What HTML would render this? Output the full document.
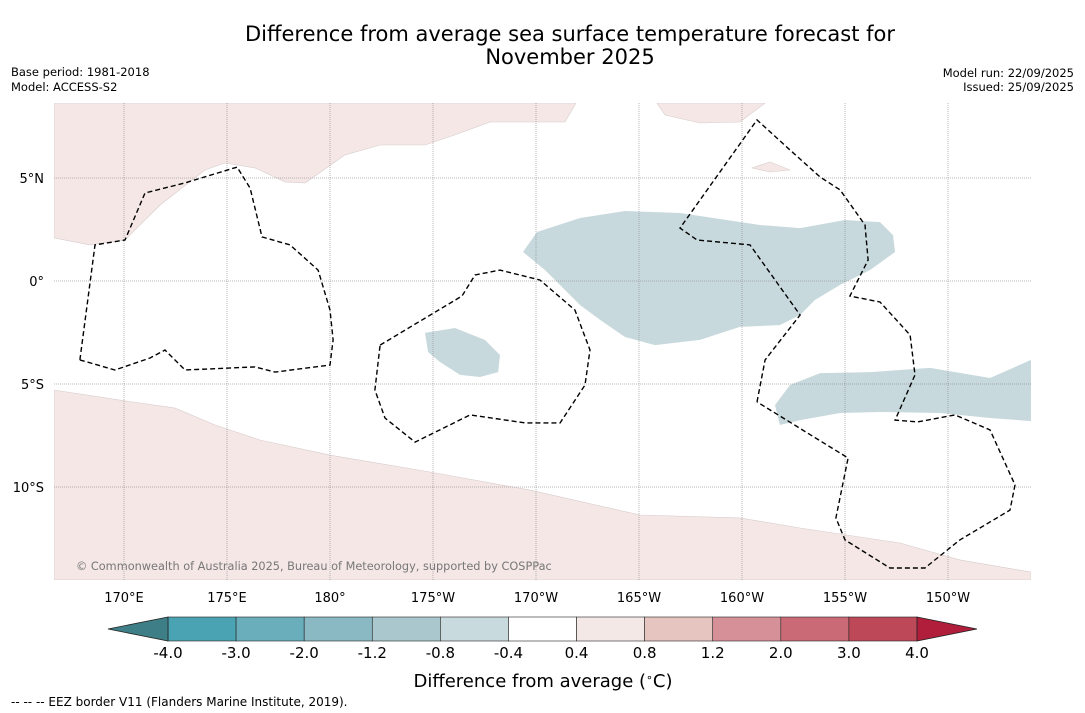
<!DOCTYPE html>
<html><head><meta charset="utf-8">
<style>
body{margin:0;background:#fff;width:1085px;height:713px;overflow:hidden;font-family:"Liberation Sans","DejaVu Sans",sans-serif;}
svg{display:block}
text{font-family:"DejaVu Sans","Liberation Sans",sans-serif;}
</style></head>
<body>
<svg id="chart" width="1085" height="713">
<text x="570" y="41" text-anchor="middle" font-size="21" fill="#000">Difference from average sea surface temperature forecast for</text>
<text x="570" y="64" text-anchor="middle" font-size="21" fill="#000">November 2025</text>
<text x="11" y="76" font-size="11.5">Base period: 1981-2018</text>
<text x="11" y="91" font-size="11.5">Model: ACCESS-S2</text>
<text x="1074" y="77" font-size="11.5" text-anchor="end">Model run: 22/09/2025</text>
<text x="1074" y="91" font-size="11.5" text-anchor="end">Issued: 25/09/2025</text>
<g id="map"></g>
<g id="cbar"></g>
<text x="543" y="687" text-anchor="middle" font-size="18">Difference from average (<tspan font-size="11" dy="-6">∘</tspan><tspan dy="6">C)</tspan></text>
<text x="11" y="706" font-size="12">--  --  -- EEZ border V11 (Flanders Marine Institute, 2019).</text>
</svg>
<script>
const lonTicks=[170,175,180,185,190,195,200,205,210];
const lonLabels=["170°E","175°E","180°","175°W","170°W","165°W","160°W","155°W","150°W"];
const latTicks=[5,0,-5,-10];
const latLabels=["5°N","0°","5°S","10°S"];
const levels=[-4.0,-3.0,-2.0,-1.2,-0.8,-0.4,0.4,0.8,1.2,2.0,3.0,4.0];
const levelLabels=["-4.0","-3.0","-2.0","-1.2","-0.8","-0.4","0.4","0.8","1.2","2.0","3.0","4.0"];
const binColors=["#4aa3b2","#6aaebb","#8ab9c4","#a9c7cc","#c8dadd","#ffffff","#f3e8e6","#e6c5c0","#d69098","#ca6a76","#bd4858"];
const landNorthWest=[[166.6,8.64],[166.6,2.09],[168.35,1.75],[170.05,1.99],[171.75,3.69],[173.93,5.39],[174.9,5.73],[176.36,5.49],[177.82,4.81],[178.79,4.76],[180.73,6.12],[182.43,6.6],[184.61,6.6],[186.07,7.09],[187.77,7.72],[191.41,7.72],[191.94,8.64]];
const landNorthEast=[[195.87,8.64],[196.26,8.06],[197.96,7.67],[199.9,7.72],[201.12,8.64]];
const islandSmall=[[200.49,5.49],[201.36,5.78],[202.33,5.39],[201.36,5.29]];
const landSouth=[[166.6,-5.29],[169.8,-5.78],[172.48,-6.17],[174.42,-6.99],[176.6,-7.72],[180,-8.45],[184.85,-9.27],[189.71,-10.15],[195.05,-11.36],[199.9,-11.5],[202.82,-11.99],[207.67,-12.72],[210.58,-13.54],[214.03,-14.13],[214.03,-14.51],[166.6,-14.51]];
const coolBig=[[190.05,2.38],[192.14,3.06],[194.32,3.4],[196.99,3.3],[200.87,2.72],[202.82,2.57],[205.0,2.96],[206.7,2.86],[207.33,2.23],[207.43,1.41],[206.21,0.53],[204.76,-0.19],[203.54,-0.92],[202.82,-1.65],[201.84,-2.14],[199.9,-2.23],[197.96,-2.86],[195.78,-3.11],[194.32,-2.72],[193.11,-1.89],[192.14,-1.17],[190.44,0.53],[189.37,1.41]];
const coolSmall=[[184.61,-2.52],[186.07,-2.28],[187.52,-2.86],[188.25,-3.59],[188.16,-4.42],[187.28,-4.66],[186.31,-4.56],[185.34,-3.93],[184.76,-3.45]];
const coolEast=[[201.6,-6.02],[202.33,-5.05],[203.79,-4.47],[206.21,-4.42],[209.13,-4.22],[212.04,-4.71],[214.03,-3.83],[214.03,-6.8],[212.04,-6.65],[209.61,-6.41],[206.7,-6.36],[204.76,-6.41],[202.82,-6.75],[201.84,-6.99]];
const eezWest=[[167.86,-3.83],[168.59,1.75],[170.05,1.99],[171.02,4.27],[172.96,4.76],[175.49,5.53],[176.12,4.51],[176.7,2.14],[178.06,1.75],[179.42,0.53],[180,-1.41],[180.15,-2.86],[180,-4.08],[177.33,-4.42],[176.36,-4.17],[172.96,-4.32],[171.99,-3.35],[171.26,-3.74],[169.56,-4.32],[167.86,-3.83]];
const eezMid=[[182.43,-3.11],[186.41,-0.73],[187.04,0.29],[188.25,0.53],[190.19,0.05],[191.89,-1.41],[192.62,-3.35],[192.38,-5.05],[191.17,-6.89],[189.47,-6.89],[186.8,-6.5],[184.13,-7.82],[182.67,-6.65],[182.18,-5.29],[182.43,-3.11]];
const eezEast=[[200.73,-5.87],[201.12,-3.83],[202.82,-1.65],[200.39,1.75],[197.82,1.99],[196.99,2.57],[200.73,7.82],[202.33,6.36],[203.79,5.05],[204.76,4.42],[205.97,2.72],[206.12,1.02],[205.24,-0.73],[206.7,-1.02],[208.16,-2.62],[208.4,-4.56],[207.43,-6.75],[208.54,-6.84],[210.34,-6.5],[212.04,-7.23],[213.25,-9.9],[213.01,-11.12],[210.58,-12.57],[208.88,-13.93],[207.18,-13.93],[205.0,-12.57],[204.56,-11.5],[205.15,-8.59],[200.73,-5.87]];

const NS="http://www.w3.org/2000/svg";
const X0=54,X1=1031,Y0=103,Y1=580;
const xS=lon=>124+(lon-170)*20.6;
const yS=lat=>281-lat*20.6;
function mk(tag,attrs,parent){const e=document.createElementNS(NS,tag);for(const k in attrs)e.setAttribute(k,attrs[k]);parent.appendChild(e);return e;}
const map=document.getElementById('map');
const defs=mk('defs',{},map);
const cp=mk('clipPath',{id:'clip'},defs);
mk('rect',{x:X0,y:Y0,width:X1-X0,height:Y1-Y0},cp);
const g=mk('g',{'clip-path':'url(#clip)'},map);
const pts=a=>a.map(p=>xS(p[0]).toFixed(1)+','+yS(p[1]).toFixed(1)).join(' ');
function poly(arr,fill,name,extra){const e=mk('polygon',Object.assign({points:pts(arr),fill:fill},extra&&extra.attrs||{}),g);

return e;}
poly(coolBig,'#c8d9dd','cool-anomaly-central');
poly(coolSmall,'#c8d9dd','cool-anomaly-small');
poly(coolEast,'#c8d9dd','cool-anomaly-east');
poly(landNorthWest,'#f4e7e6','land-north-west',{attrs:{stroke:'#d8cccc','stroke-width':0.6}});
poly(landNorthEast,'#f4e7e6','land-north-east',{attrs:{stroke:'#d8cccc','stroke-width':0.6}});
poly(islandSmall,'#f4e7e6','island-north-east',{attrs:{stroke:'#d8cccc','stroke-width':0.6}});
poly(landSouth,'#f4e7e6','land-south',{attrs:{stroke:'#d8cccc','stroke-width':0.6}});
lonTicks.forEach((lon,i)=>{const l=mk('line',{x1:xS(lon),x2:xS(lon),y1:Y0,y2:Y1,stroke:'#888','stroke-width':0.6,'stroke-dasharray':'1,1'},g);


const t=mk('text',{x:xS(lon),y:602,'text-anchor':'middle','font-size':13},map);t.textContent=lonLabels[i];

});
latTicks.forEach((lat,i)=>{const l=mk('line',{x1:X0,x2:X1,y1:yS(lat),y2:yS(lat),stroke:'#777','stroke-width':0.6,'stroke-dasharray':'1,1'},g);


const t=mk('text',{x:44,y:yS(lat)+5,'text-anchor':'end','font-size':13},map);t.textContent=latLabels[i];

});
[eezWest,eezMid,eezEast].forEach((a,i)=>{const e=mk('polyline',{points:pts(a),fill:'none',stroke:'#000','stroke-width':1.4,'stroke-dasharray':'5,3'},g);

});
const cr=mk('text',{x:76,y:570,'font-size':11.3,fill:'#777'},g);cr.textContent='© Commonwealth of Australia 2025, Bureau of Meteorology, supported by COSPPac';


const cb=document.getElementById('cbar');
const CB0=168,CB1=917,CY0=617,CY1=641;
const cx=i=>CB0+i*(CB1-CB0)/(levels.length-1);
for(let i=0;i<binColors.length;i++){const r=mk('rect',{x:cx(i),y:CY0,width:cx(i+1)-cx(i),height:CY1-CY0,fill:binColors[i],stroke:'#222','stroke-width':0.6},cb);

}
const lt=mk('polygon',{points:`${CB0},${CY0} 108,629 ${CB0},${CY1}`,fill:'#3e7f87',stroke:'#222','stroke-width':0.8},cb);


const rt=mk('polygon',{points:`${CB1},${CY0} 977,629 ${CB1},${CY1}`,fill:'#b01e3c',stroke:'#222','stroke-width':0.8},cb);


levels.forEach((v,i)=>{const t=mk('text',{x:cx(i),y:658,'text-anchor':'middle','font-size':15},cb);t.textContent=levelLabels[i];

});
</script>
</body></html>
